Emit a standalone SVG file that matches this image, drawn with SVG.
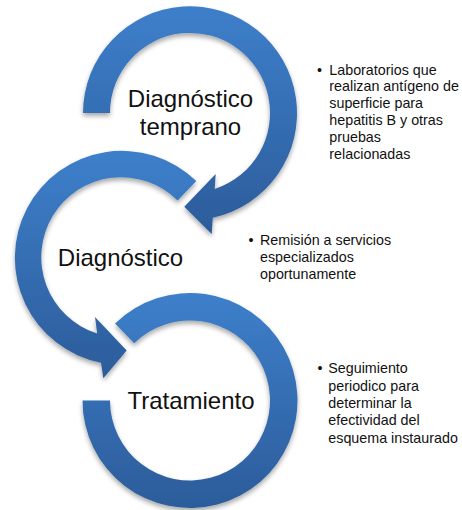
<svg xmlns="http://www.w3.org/2000/svg" width="462" height="510" viewBox="0 0 462 510">
  <style>
    .arc { fill: url(#blue); filter: url(#shadow); }
    .label { font-family: "Liberation Sans", Arial, sans-serif; font-size: 24px; fill: #111; text-anchor: middle; }
    .note { font-family: "Liberation Sans", Arial, sans-serif; font-size: 14.3px; fill: #111; }
  </style>
  <defs>
    <linearGradient id="blue" x1="0" y1="0" x2="0" y2="1">
      <stop offset="0" stop-color="#3d7fcb"/>
      <stop offset="1" stop-color="#2c5c9a"/>
    </linearGradient>
    <filter id="shadow" x="-10%" y="-10%" width="120%" height="125%">
      <feGaussianBlur in="SourceAlpha" stdDeviation="2.5"/>
      <feOffset dx="0" dy="3" result="b"/>
      <feComponentTransfer><feFuncA type="linear" slope="0.35"/></feComponentTransfer>
      <feMerge><feMergeNode/><feMergeNode in="SourceGraphic"/></feMerge>
    </filter>
  </defs>

  <g id="connectors">
    <path id="arrow-top" class="arc" d="M 83 113 A 107 107 0 1 1 212.8 217.8 L 211.7 234 L 184.3 206.8 L 215.7 174 L 214.7 189 A 80 80 0 1 0 110 113 Z"/>
    <path id="arrow-middle" class="arc" d="M 196.3 181 A 107 107 0 1 0 101 362.8 L 103.3 378.3 L 126.7 350.5 L 95 317 L 97.2 333.5 A 80 80 0 1 1 177.6 200.4 Z"/>
    <path id="arc-bottom" class="arc" d="M 115.05 323.43 A 107.5 107.5 0 1 1 82.5 400.5 L 110 400.5 A 80 80 0 1 0 134.2 343.15 Z"/>
  </g>

  <g id="node-diagnostico-temprano">
    <text class="label" x="190.5" y="107">Diagnóstico</text>
    <text class="label" x="190.5" y="135">temprano</text>
  </g>
  <g id="node-diagnostico">
    <text class="label" x="120.5" y="266">Diagnóstico</text>
  </g>
  <g id="node-tratamiento">
    <text class="label" x="191" y="409">Tratamiento</text>
  </g>

  <g id="note-1" class="note">
    <text x="317" y="74.5">•</text>
    <text x="329.3" y="74.5">Laboratorios que</text>
    <text x="329.3" y="91.4">realizan antígeno de</text>
    <text x="329.3" y="108.3">superficie para</text>
    <text x="329.3" y="125.2">hepatitis B y otras</text>
    <text x="329.3" y="142.1">pruebas</text>
    <text x="329.3" y="159">relacionadas</text>
  </g>
  <g id="note-2" class="note">
    <text x="248.5" y="245">•</text>
    <text x="260" y="245">Remisión a servicios</text>
    <text x="260" y="262">especializados</text>
    <text x="260" y="279">oportunamente</text>
  </g>
  <g id="note-3" class="note">
    <text x="317.5" y="373.3">•</text>
    <text x="328.3" y="373.3">Seguimiento</text>
    <text x="328.3" y="390.7">periodico para</text>
    <text x="328.3" y="408">determinar la</text>
    <text x="328.3" y="425.4">efectividad del</text>
    <text x="328.3" y="442.7">esquema instaurado</text>
  </g>
</svg>
